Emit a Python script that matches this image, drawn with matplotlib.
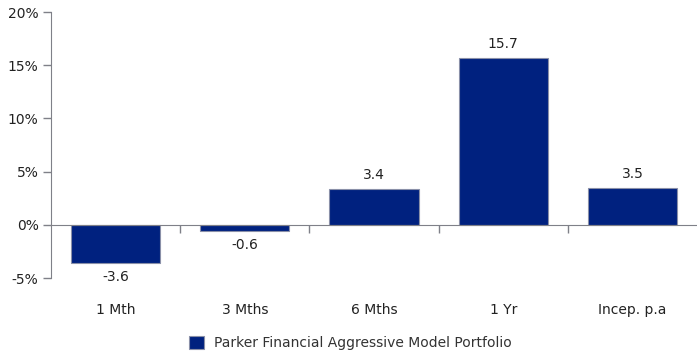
import matplotlib.pyplot as plt
import matplotlib.transforms as mtransforms
import numpy as np
from matplotlib.patches import Patch

categories = ["1 Mth", "3 Mths", "6 Mths", "1 Yr", "Incep. p.a"]
values = [-3.6, -0.6, 3.4, 15.7, 3.5]
series_name = "Parker Financial Aggressive Model Portfolio"
yticks = [-5, 0, 5, 10, 15, 20]

bar_color = "#00217f"
axis_color = "#7f8088"
text_color = "#222222"
fs = 10

plt.rcParams['font.family'] = ['Verdana', 'DejaVu Sans']

fig = plt.figure(figsize=(6.97, 3.56), dpi=100)
ax = fig.add_axes([51 / 697, 1 - 278 / 356, 646 / 697, 266 / 356])

x = np.arange(len(categories))
ax.bar(x, values, width=0.69, color=bar_color, edgecolor="#8a90a8", linewidth=0.8, zorder=2)

for xi, v in zip(x, values):
    if v >= 0:
        ax.annotate(f"{v:.1f}", (xi, v), xytext=(0, 5), textcoords="offset points",
                    ha="center", va="bottom", fontsize=fs, color=text_color)
    else:
        ax.annotate(f"{v:.1f}", (xi, v), xytext=(0, -5), textcoords="offset points",
                    ha="center", va="top", fontsize=fs, color=text_color)

ax.set_xlim(-0.5, len(categories) - 0.5)
ax.set_ylim(-5, 20)
ax.set_yticks(yticks)
ax.set_yticklabels([f"{t}%" for t in yticks], fontsize=fs, color=text_color)

ax.spines["top"].set_visible(False)
ax.spines["right"].set_visible(False)
ax.spines["left"].set_color(axis_color)
ax.spines["bottom"].set_color(axis_color)
ax.spines["bottom"].set_position(("data", 0))
ax.tick_params(axis="y", color=axis_color, length=6, width=1, pad=3)

# category boundaries as ticks on the zero line
ax.set_xticks(x[:-1] + 0.5)
ax.set_xticklabels([])
ax.tick_params(axis="x", color=axis_color, length=6, width=1, direction="out")

trans = mtransforms.blended_transform_factory(ax.transData, ax.transAxes)
for xi, c in zip(x, categories):
    ax.text(xi, -0.12, c, transform=trans, ha="center", va="center",
            fontsize=fs, color=text_color)

handle = Patch(facecolor=bar_color, edgecolor="#8a90a8", linewidth=0.8)
fig.legend([handle], [series_name], loc="center", bbox_to_anchor=(350 / 697, 1 - 343 / 356),
           frameon=False, fontsize=fs, handlelength=1.1, handleheight=1.1,
           handletextpad=0.7, labelcolor="#333333")

fig.savefig("out.png", dpi=100)
